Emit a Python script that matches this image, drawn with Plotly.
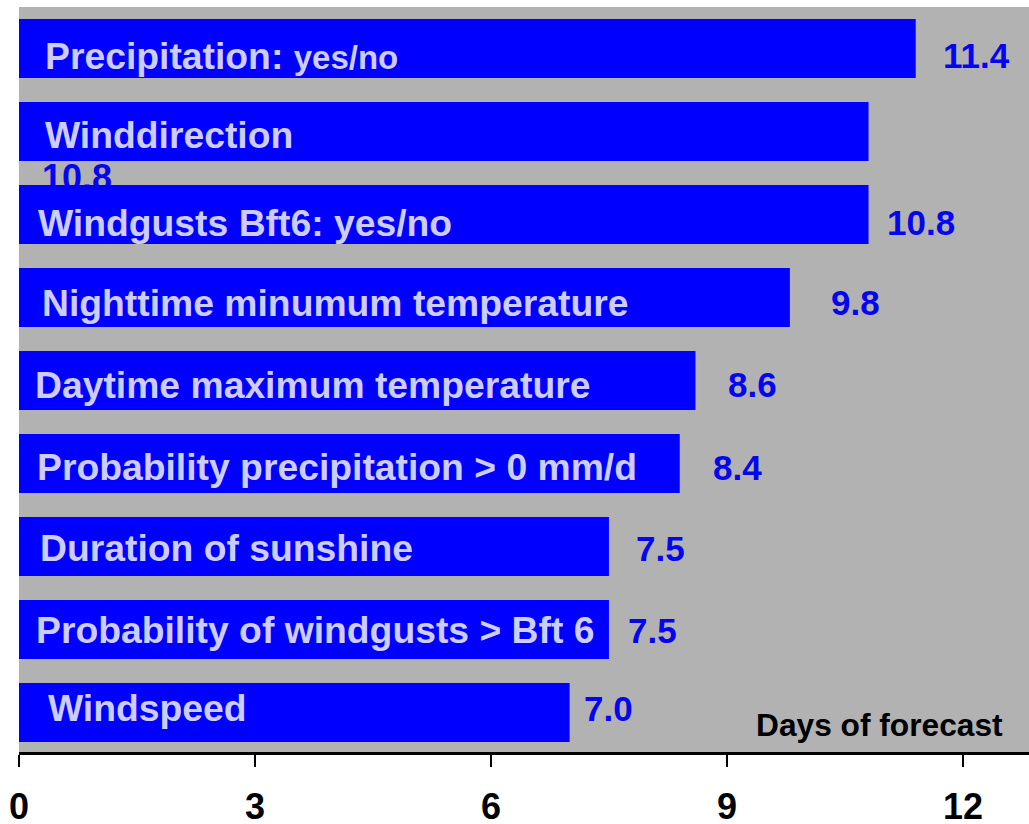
import plotly.graph_objects as go

# ---- data (top to bottom as in the picture) ----
categories = [
    "Precipitation: yes/no",
    "Winddirection",
    "Windgusts Bft6: yes/no",
    "Nighttime minumum temperature",
    "Daytime maximum temperature",
    "Probability precipitation > 0 mm/d",
    "Duration of sunshine",
    "Probability of windgusts > Bft 6",
    "Windspeed",
]
days = [11.4, 10.8, 10.8, 9.8, 8.6, 8.4, 7.5, 7.5, 7.0]
value_labels = ["11.4", "10.8", "10.8", "9.8", "8.6", "8.4", "7.5", "7.5", "7.0"]
tick_values = [0, 3, 6, 9, 12]
axis_label = "Days of forecast"

# ---- styling ----
BAR_BLUE = "#0000FF"
LABEL_LAVENDER = "#CCCCFF"
VALUE_BLUE = "#0505F0"
BG_GRAY = "#B2B2B2"
FONT = "Liberation Sans, Arial, sans-serif"
NARROW = "Liberation Sans Narrow, Arial Narrow, Liberation Sans, sans-serif"

n = len(categories)
positions = [n - 1 - i for i in range(n)]  # top row at highest position

# per-row text offsets (pixels) - purely presentational
inside_xshift = [24, 24, 17, 21, 14, 16, 19, 15, 27]
row_yshift = [-7, -3.5, -8, -5, -4, -3.5, -2, -1, 4]
value_xshift = [25, None, 16, 39, 31, 31, 25, 17, 12]

display_names = list(categories)
display_names[0] = ("Precipitation: <span style='font-family:" + NARROW +
                    ";font-size:33px'>yes/no</span>")

fig = go.Figure()

# misplaced value label of the "Winddirection" row, drawn under the next bar
misplaced_row = 1
fig.add_trace(go.Bar(
    y=[positions[misplaced_row] - 0.554],
    x=[days[misplaced_row]],
    orientation="h",
    width=0.6,
    marker=dict(color="rgba(0,0,0,0)", line=dict(width=0)),
    text=["\u00a0\u00a0" + value_labels[misplaced_row]],
    textposition="inside",
    insidetextanchor="start",
    constraintext="none",
    insidetextfont=dict(family=FONT, size=36, color=VALUE_BLUE, weight="bold"),
    hoverinfo="skip",
    showlegend=False,
))

fig.add_trace(go.Bar(
    y=positions,
    x=days,
    orientation="h",
    width=0.71,
    marker=dict(color=BAR_BLUE, line=dict(width=0)),
    hoverinfo="skip",
    showlegend=False,
))

annotations = []
for i in range(n):
    annotations.append(dict(
        x=0, y=positions[i], xref="x", yref="y",
        text=display_names[i], showarrow=False,
        xanchor="left", yanchor="middle",
        xshift=inside_xshift[i], yshift=row_yshift[i],
        font=dict(family=FONT, size=37.3, color=LABEL_LAVENDER, weight="bold"),
    ))
    if value_xshift[i] is not None:
        annotations.append(dict(
            x=days[i], y=positions[i], xref="x", yref="y",
            text=value_labels[i], showarrow=False,
            xanchor="left", yanchor="middle",
            xshift=value_xshift[i], yshift=row_yshift[i],
            font=dict(family=FONT, size=35, color=VALUE_BLUE, weight="bold"),
        ))

annotations.append(dict(
    x=1, y=0, xref="paper", yref="paper",
    text=axis_label, showarrow=False,
    xanchor="right", yanchor="middle",
    xshift=-24, yshift=27,
    font=dict(family=FONT, size=31.7, color="black", weight="bold"),
))

fig.update_layout(
    width=1029, height=824,
    margin=dict(l=19, r=0, t=7, b=72, autoexpand=False),
    paper_bgcolor="white",
    plot_bgcolor=BG_GRAY,
    barmode="overlay",
    annotations=annotations,
    xaxis=dict(
        range=[0, 12.84],
        tickvals=tick_values,
        ticktext=[str(v) for v in tick_values],
        ticks="outside", ticklen=12, tickwidth=2, tickcolor="black",
        showline=True, linecolor="black", linewidth=2.5,
        showgrid=False, zeroline=False,
        tickfont=dict(family=FONT, size=36, color="black", weight="bold"),
        ticklabelstandoff=9,
        automargin=False,
        fixedrange=True,
    ),
    yaxis=dict(
        range=[-0.476, 8.5],
        showticklabels=False, showgrid=False, zeroline=False,
        showline=False, ticks="",
        automargin=False,
        fixedrange=True,
    ),
)

fig.write_html(
    "out.html",
    config={"displayModeBar": False},
    post_script="document.body.style.margin='0';document.body.style.overflow='hidden';",
)
